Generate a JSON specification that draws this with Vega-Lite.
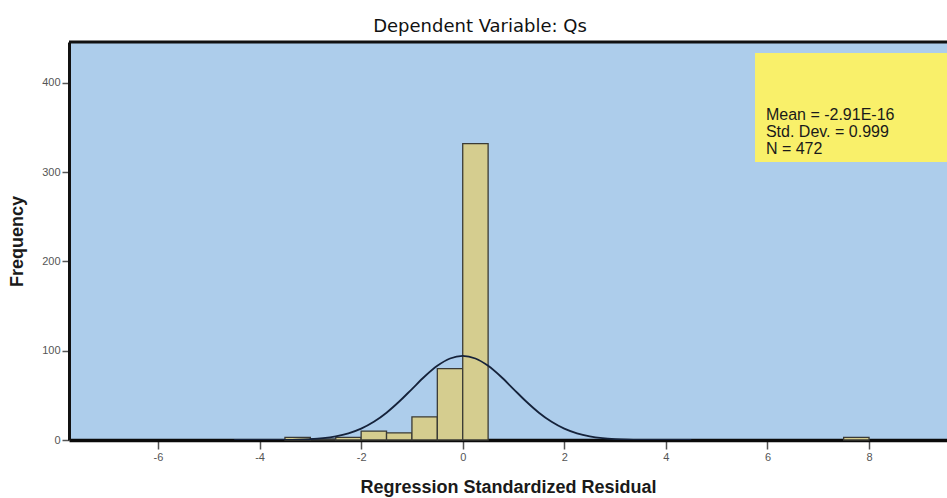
{
  "$schema": "https://vega.github.io/schema/vega-lite/v6.json",
  "autosize": {"type": "none"},
  "padding": {"left": 69, "top": 42, "right": 0, "bottom": 58},
  "width": 878,
  "height": 398,
  "background": "#ffffff",
  "title": {
    "text": "Dependent Variable: Qs",
    "font": "DejaVu Sans",
    "fontSize": 18,
    "fontWeight": "normal",
    "color": "#111111",
    "anchor": "middle",
    "dx": -28,
    "offset": 5
  },
  "datasets": {
    "bars": [
      {"bin_start": -3.5, "bin_end": -3.0, "count": 3},
      {"bin_start": -3.0, "bin_end": -2.5, "count": 1},
      {"bin_start": -2.5, "bin_end": -2.0, "count": 3},
      {"bin_start": -2.0, "bin_end": -1.5, "count": 10},
      {"bin_start": -1.5, "bin_end": -1.0, "count": 8},
      {"bin_start": -1.0, "bin_end": -0.5, "count": 26},
      {"bin_start": -0.5, "bin_end": 0.0, "count": 80},
      {"bin_start": 0.0, "bin_end": 0.5, "count": 332},
      {"bin_start": 7.5, "bin_end": 8.0, "count": 3}
    ],
    "curve": [
      {"x": -4.5, "f": 0.0},
      {"x": -4.0, "f": 0.03},
      {"x": -3.75, "f": 0.08},
      {"x": -3.5, "f": 0.2},
      {"x": -3.25, "f": 0.48},
      {"x": -3.0, "f": 1.05},
      {"x": -2.75, "f": 2.14},
      {"x": -2.5, "f": 4.13},
      {"x": -2.25, "f": 7.5},
      {"x": -2.0, "f": 12.75},
      {"x": -1.75, "f": 20.4},
      {"x": -1.5, "f": 30.6},
      {"x": -1.25, "f": 43.1},
      {"x": -1.0, "f": 57.1},
      {"x": -0.75, "f": 71.1},
      {"x": -0.5, "f": 83.1},
      {"x": -0.25, "f": 91.3},
      {"x": 0.0, "f": 94.2},
      {"x": 0.25, "f": 91.3},
      {"x": 0.5, "f": 83.1},
      {"x": 0.75, "f": 71.1},
      {"x": 1.0, "f": 57.1},
      {"x": 1.25, "f": 43.1},
      {"x": 1.5, "f": 30.6},
      {"x": 1.75, "f": 20.4},
      {"x": 2.0, "f": 12.75},
      {"x": 2.25, "f": 7.5},
      {"x": 2.5, "f": 4.13},
      {"x": 2.75, "f": 2.14},
      {"x": 3.0, "f": 1.05},
      {"x": 3.25, "f": 0.48},
      {"x": 3.5, "f": 0.2},
      {"x": 3.75, "f": 0.08},
      {"x": 4.0, "f": 0.03},
      {"x": 4.5, "f": 0.0}
    ],
    "stats": [
      {"text": "Mean = -2.91E-16\nStd. Dev. = 0.999\nN = 472"}
    ]
  },
  "layer": [
    {
      "data": {"name": "bars"},
      "mark": {"type": "rect", "fill": "#D5CD8F", "stroke": "#3a3a35", "strokeWidth": 1.3},
      "encoding": {
        "x": {
          "field": "bin_start",
          "type": "quantitative",
          "scale": {"domain": [-7.752, 9.535], "nice": false, "zero": false},
          "axis": {
            "values": [-6, -4, -2, 0, 2, 4, 6, 8],
            "labelExpr": "'' + datum.value",
            "title": "Regression Standardized Residual",
            "titleFont": "Liberation Sans",
            "titleFontSize": 18,
            "titleFontWeight": "bold",
            "titleColor": "#1a1a1a",
            "titlePadding": 16,
            "labelFont": "Liberation Sans",
            "labelFontSize": 11,
            "labelColor": "#555555",
            "labelPadding": 2,
            "tickSize": 9,
            "tickColor": "#555555",
            "tickWidth": 1.5,
            "domain": true,
            "domainColor": "#0a0a0a",
            "domainWidth": 3.5,
            "grid": false
          }
        },
        "x2": {"field": "bin_end"},
        "y": {
          "field": "count",
          "type": "quantitative",
          "scale": {"domain": [0, 445.9], "nice": false},
          "axis": {
            "values": [0, 100, 200, 300, 400],
            "title": "Frequency",
            "titleFont": "Liberation Sans",
            "titleFontSize": 18,
            "titleFontWeight": "bold",
            "titleColor": "#1a1a1a",
            "titlePadding": 15,
            "labelFont": "Liberation Sans",
            "labelFontSize": 11,
            "labelColor": "#555555",
            "labelPadding": 2,
            "tickSize": 7,
            "tickColor": "#555555",
            "tickWidth": 1.5,
            "domain": true,
            "domainColor": "#111111",
            "domainWidth": 3,
            "grid": false
          }
        },
        "y2": {"datum": 0}
      }
    },
    {
      "data": {"name": "curve"},
      "mark": {"type": "line", "color": "#15223a", "strokeWidth": 1.8, "interpolate": "monotone", "clip": true},
      "encoding": {
        "x": {"field": "x", "type": "quantitative"},
        "y": {"field": "f", "type": "quantitative"}
      }
    },
    {
      "data": {"values": [{}]},
      "mark": {"type": "rule", "color": "#111111", "strokeWidth": 3},
      "encoding": {
        "y": {"datum": 445.9}
      }
    },
    {
      "data": {"values": [{}]},
      "mark": {"type": "rect", "fill": "#F9F06A", "stroke": null, "clip": true},
      "encoding": {
        "x": {"datum": 5.755},
        "x2": {"datum": 9.7},
        "y": {"datum": 433.6},
        "y2": {"datum": 311.5}
      }
    },
    {
      "data": {"name": "stats"},
      "mark": {
        "type": "text",
        "align": "left",
        "baseline": "middle",
        "lineBreak": "\n",
        "lineHeight": 17,
        "font": "Liberation Sans",
        "fontSize": 16,
        "fontWeight": 500,
        "color": "#1a1a1a"
      },
      "encoding": {
        "x": {"datum": 5.97},
        "y": {"datum": 364.1},
        "text": {"field": "text"}
      }
    }
  ],
  "config": {
    "view": {"fill": "#ADCDEB", "stroke": null}
  }
}
